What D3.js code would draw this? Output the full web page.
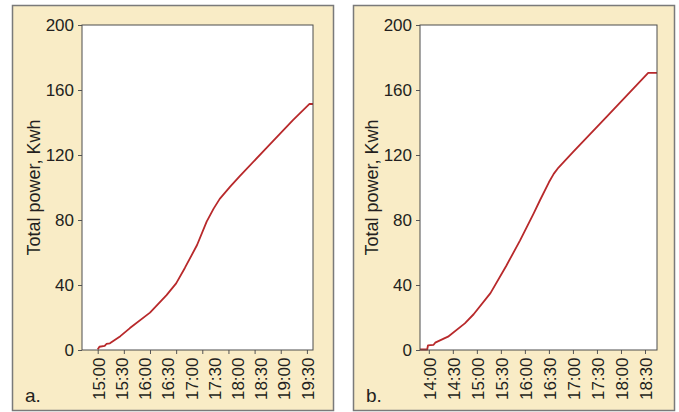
<!DOCTYPE html>
<html>
<head>
<meta charset="utf-8">
<script src="https://cdn.jsdelivr.net/npm/d3@7"></script>
<style>
  body { margin: 0; background: #fff; }
  text { font-family: "Liberation Sans", Arial, sans-serif; fill: #231f20; }
</style>
</head>
<body>
<div id="chart"></div>
<script>
// values (Kwh, cumulative)
const yTicks = [0, 40, 80, 120, 160, 200];

const timesA = ["15:00", "15:02", "15:08", "15:10", "15:14", "15:26", "15:37", "16:00", "16:19", "16:30", "16:40",
                "16:54", "17:05", "17:13", "17:20", "17:32", "17:43", "18:14", "18:44", "19:03", "19:07"];
const powerA = [0.3, 2.0, 2.5, 3.7, 4.1, 8.5, 13.5, 23, 33.8, 41, 50.5,
                64.6, 79, 87, 93, 100.5, 107, 124.5, 141.5, 151.4, 151.4];
// panel a has 9 tick marks but 10 labels (as in the original figure)
const tickTimesA = ["15:00", "15:30", "16:00", "16:30", "17:00", "17:30", "18:00", "18:30", "19:00"];
const labelsA = ["15:00", "15:30", "16:00", "16:30", "17:00", "17:30", "18:00", "18:30", "19:00", "19:30"];

const timesB = ["13:49", "13:58", "13:59", "14:06", "14:08", "14:24", "14:45", "14:56", "15:17", "15:37", "15:54",
                "16:11", "16:19", "16:30", "16:36", "16:42", "17:00", "17:42", "18:34", "18:45"];
const powerB = [0.3, 0.3, 2.9, 3.2, 4.5, 8.2, 16.4, 22, 35, 52, 67.5,
                84.1, 92.3, 103.2, 108.4, 112.3, 121.7, 143.5, 170.6, 170.6];
const labelsB = ["14:00", "14:30", "15:00", "15:30", "16:00", "16:30", "17:00", "17:30", "18:00", "18:30"];
const tickTimesB = labelsB;

const parseTime = d3.timeParse("%H:%M");

const svg = d3.select("#chart")
              .append("svg")
              .attr("width", 679)
              .attr("height", 412);

function drawPanel(p) {
    const top = 25, bottom = 350;

    svg.append("rect")
       .attr("x", p.boxLeft + 0.5).attr("y", 5.5)
       .attr("width", 321).attr("height", 405)
       .attr("fill", "#f9ecc6")
       .attr("stroke", "#7a7a7a")
       .attr("stroke-width", 1.5);

    svg.append("rect")
       .attr("x", p.left).attr("y", top)
       .attr("width", p.right - p.left).attr("height", bottom - top)
       .attr("fill", "#fff");

    const x = d3.scaleTime()
                .domain(p.domain.map(parseTime))
                .range([p.left, p.right]);

    const y = d3.scaleLinear()
                .domain([0, 200])
                .range([bottom, top]);

    // y axis
    const yAxis = svg.append("g")
       .attr("transform", `translate(${p.left},0)`)
       .call(d3.axisLeft(y).tickValues(yTicks).tickSize(4).tickPadding(4));
    yAxis.select(".domain").remove();
    yAxis.selectAll(".tick line").attr("stroke", "#555");
    yAxis.selectAll("text").attr("font-size", 17);

    // x tick marks
    const tickDates = p.tickTimes.map(parseTime);
    const xTicks = svg.append("g")
       .attr("transform", `translate(0,${bottom})`)
       .call(d3.axisBottom(x).tickValues(tickDates).tickSize(4).tickFormat(""));
    xTicks.select(".domain").remove();
    xTicks.selectAll(".tick line").attr("stroke", "#555");

    // x labels, spread evenly between first and last tick mark
    const lx = d3.scalePoint()
                 .domain(p.labels)
                 .range([x(tickDates[0]) + 0.5, x(tickDates[tickDates.length - 1])]);
    const xLabels = svg.append("g")
       .attr("transform", `translate(0,${bottom})`)
       .call(d3.axisBottom(lx).tickSize(0));
    xLabels.select(".domain").remove();
    xLabels.selectAll("text")
       .attr("font-size", 17)
       .attr("transform", "rotate(-90)")
       .attr("text-anchor", "end")
       .attr("x", -7.5)
       .attr("y", 0)
       .attr("dy", "0.36em");

    // line
    const pts = p.times.map((t, i) => [parseTime(t), p.power[i]]);
    svg.append("path")
       .datum(pts)
       .attr("fill", "none")
       .attr("stroke", "#b8292b")
       .attr("stroke-width", 1.8)
       .attr("stroke-linejoin", "round")
       .attr("d", d3.line()
                    .x(d => x(d[0]))
                    .y(d => y(d[1]))
       );

    // plot frame
    svg.append("rect")
       .attr("x", p.left).attr("y", top)
       .attr("width", p.right - p.left).attr("height", bottom - top)
       .attr("fill", "none")
       .attr("stroke", "#4d4d4d")
       .attr("stroke-width", 1);

    svg.append("text")
       .attr("transform", `translate(${p.left - 42.5},${(top + bottom) / 2}) rotate(-90)`)
       .attr("text-anchor", "middle")
       .attr("font-size", 18)
       .text("Total power, Kwh");

    svg.append("text")
       .attr("x", p.boxLeft + 13)
       .attr("y", 402)
       .attr("font-size", 19)
       .text(p.tag);
}

drawPanel({ boxLeft: 12, left: 82, right: 313, domain: ["14:42", "19:07"],
            times: timesA, power: powerA, tickTimes: tickTimesA, labels: labelsA, tag: "a." });
drawPanel({ boxLeft: 353, left: 420, right: 657, domain: ["13:49", "18:45"],
            times: timesB, power: powerB, tickTimes: tickTimesB, labels: labelsB, tag: "b." });
</script>
</body>
</html>
